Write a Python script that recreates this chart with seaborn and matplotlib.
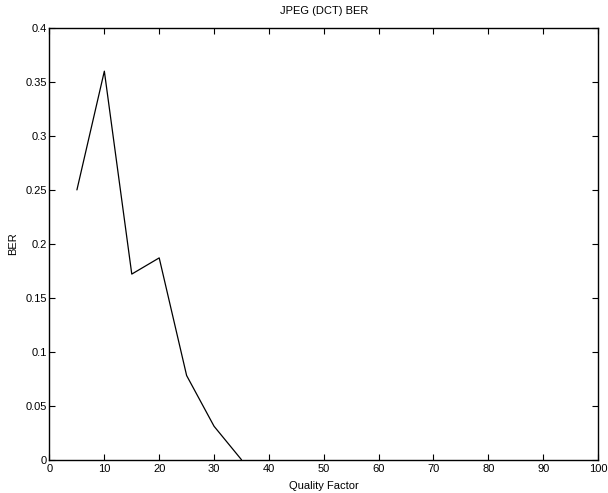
import matplotlib
matplotlib.use("Agg")
import matplotlib.pyplot as plt
import seaborn as sns
import pandas as pd

quality = [5, 10, 15, 20, 25, 30, 35]
ber = [0.25, 0.36, 0.172, 0.187, 0.078, 0.031, 0.0]
xticks = [0, 10, 20, 30, 40, 50, 60, 70, 80, 90, 100]
yticks = [0, 0.05, 0.1, 0.15, 0.2, 0.25, 0.3, 0.35, 0.4]
ytick_labels = ["0", "0.05", "0.1", "0.15", "0.2", "0.25", "0.3", "0.35", "0.4"]

sns.set_style("white")
plt.rcParams['font.family'] = ['Liberation Sans', 'DejaVu Sans']
plt.rcParams['text.color'] = 'black'
plt.rcParams['axes.labelcolor'] = 'black'

df = pd.DataFrame({"Quality Factor": quality, "BER": ber})

fig = plt.figure(figsize=(6.08, 4.93), dpi=100)
ax = fig.add_axes([0.0814, 0.0675, 0.9022, 0.8757])
sns.lineplot(data=df, x="Quality Factor", y="BER", color="black", linewidth=0.9, ax=ax)
ax.set_xlim(0, 100)
ax.set_ylim(0, 0.4)
ax.set_xticks(xticks)
ax.set_xticklabels([str(t) for t in xticks])
ax.set_yticks(yticks)
ax.set_yticklabels(ytick_labels)
ax.tick_params(direction="in", length=4, width=0.8, top=True, right=True,
               bottom=True, left=True, labelsize=8, colors="black")
ax.tick_params(axis="x", pad=3)
ax.tick_params(axis="y", pad=2)
for s in ax.spines.values():
    s.set_visible(True)
    s.set_color("black")
    s.set_linewidth(1.0)
ax.set_xlabel("Quality Factor", fontsize=8, labelpad=5)
ax.set_ylabel("BER", fontsize=8, labelpad=5)
ax.set_title("JPEG (DCT) BER", fontsize=8, pad=10)
fig.savefig("out.png", dpi=100)
